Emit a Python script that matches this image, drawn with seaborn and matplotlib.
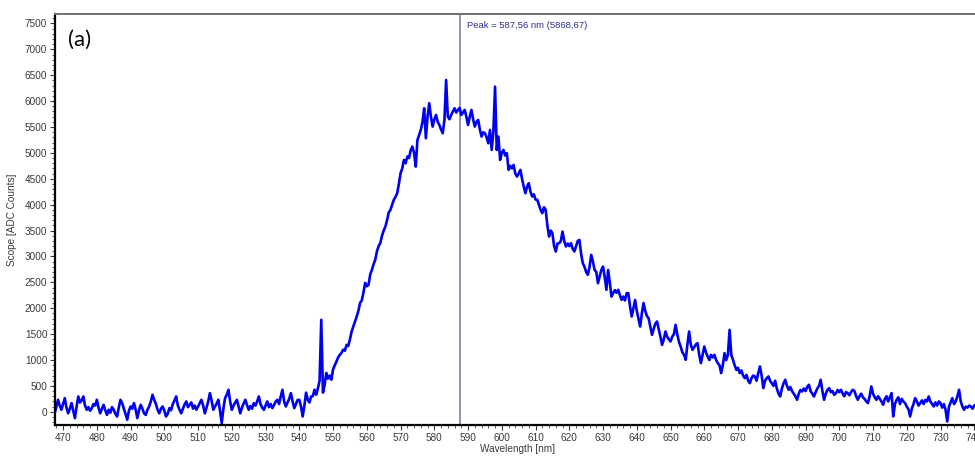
import numpy as np
import pandas as pd
import matplotlib
matplotlib.use("Agg")
import matplotlib.pyplot as plt
import seaborn as sns
from matplotlib.ticker import MultipleLocator

# ---- data (0.5 nm sampling, per segment) ----
seg_a_start = 467.5
seg_a = [-30, 100, 232, 120, 39, 150, 264, 80, -30, 60, 168, 20, -122, 100, 296, 180,
         220, 296, 120, 39, 90, 20, 71, 150, 120, 232, 80, -30, 60, 135, 30, -60,
         40, -20, 90, 39, -40, -90, 80, 232, 168, 60, -40, -154, 20, 103, 60, 168,
         40, -122, 30, 135, 60, -30, -60, 40, 103, 200, 328, 232, 150, 40, -30, 60, 103]

seg_b_start = 500.0
seg_b = [20, -90, -40, 71, 30, 150, 220, 296, 120, 40, -30, 60, 140, 200, 90, 135,
         180, 60, 120, 40, 103, 170, 232, 120, -30, 80, 200, 361, 220, 39, 100, 160,
         232, 20, -219, 60, 264, 330, 425, 200, 39, 120, 180, 232, 100, -30, 80, 160,
         232, 130, 39, 110, 60, 168, 120, 200, 296, 150, 80, 39, 120, 200, 90, 150,
         71, 130, 200, 232, 150, 300, 425, 200, 103, 180, 250, 361, 200, 71, 150, 230]

seg_c_start = 540.0
seg_c = [230, 100, -90, 120, 370, 232, 180, 296, 300, 425, 330, 450, 600, 1776, 370, 520,
         750, 640, 700, 620, 820, 900, 970, 1050, 1100, 1138, 1200, 1180, 1293, 1270, 1400, 1550,
         1647, 1750, 1840, 1950, 2103, 2150, 2300, 2490, 2425, 2450, 2650, 2741, 2850, 2934, 3100, 3200,
         3260, 3400, 3500, 3578, 3700, 3850, 3900, 4000, 4093, 4150, 4221, 4400, 4608, 4700, 4865, 4800,
         4930, 4900, 5050, 5122, 5000, 4736, 5250, 5350, 5444, 5600, 5862, 5283, 5700, 5960, 5700, 5508]

seg_d_start = 580.0
seg_d = [5650, 5733, 5600, 5540, 5450, 5380, 5637, 6409, 5700, 5650, 5733, 5800, 5862, 5780, 5830, 5869,
         5733, 5780, 5830, 5700, 5540, 5700, 5830, 5650, 5508, 5600, 5637, 5450, 5315, 5400, 5380, 5300,
         5187, 5444, 5058, 5400, 6280, 5058, 5315, 4865, 5000, 5058, 4950, 4994, 4672, 4750, 4700, 4768,
         4600, 4543, 4600, 4672, 4500, 4350, 4222, 4350, 4414, 4250, 4157, 4200, 4100, 4093, 4000, 3900,
         3836, 3950, 3900, 3600, 3385, 3500, 3449, 3200, 3095, 3250, 3256, 3300, 3481, 3300, 3192, 3250]

seg_e_start = 620.0
seg_e = [3200, 3256, 3150, 3095, 3200, 3300, 3320, 3050, 2870, 2800, 2700, 2645, 2800, 3031, 2900, 2741,
         2700, 2484, 2612, 2741, 2805, 2600, 2355, 2740, 2500, 2226, 2291, 2350, 2300, 2355, 2250, 2162,
         2226, 2150, 2290, 2290, 2033, 1840, 2000, 2160, 1950, 1800, 1647, 1900, 2100, 1950, 1850, 1808,
         1650, 1486, 1600, 1700, 1744, 1600, 1450, 1293, 1400, 1551, 1450, 1400, 1358, 1450, 1500, 1679,
         1500, 1350, 1261, 1150, 1100, 1004, 1300, 1551, 1300, 1196, 1250, 1300, 1325, 1100, 940, 1100]

seg_f_start = 660.0
seg_f = [1261, 1150, 1068, 1000, 1100, 1050, 1100, 1000, 940, 900, 747, 900, 1133, 1000, 1100, 1583,
         1100, 1004, 900, 810, 850, 747, 800, 700, 650, 714, 600, 553, 650, 700, 683, 600,
         750, 875, 700, 457, 600, 650, 683, 600, 553, 500, 600, 450, 350, 296, 450, 550,
         618, 500, 425, 480, 400, 350, 300, 232, 350, 420, 393, 450, 400, 480, 521, 400,
         350, 296, 380, 450, 500, 618, 400, 232, 350, 420, 457, 380, 400, 328, 360, 420]

seg_g_start = 700.0
seg_g = [380, 425, 350, 300, 380, 361, 320, 380, 425, 400, 300, 232, 300, 350, 280, 250,
         200, 168, 300, 489, 350, 280, 232, 300, 250, 200,
         135, 250, 300, 200, 280, 361, -90, 150, 232, 280, 150, 250, 200, 168, 100, 50,
         -90, 60, 150, 264, 200, 120, 168, 220, 150, 230, 200, 296, 200, 150, 103, 180,
         120, 200, 168, 80, 150, 40, -187, 100, 180, 264, 150, 200, 300, 425, 200, 100,
         39, 100, 80, 120, 103, 60, 120, 135, 80, 110, 100]

peak_wavelength = 587.56
peak_label = "Peak = 587,56 nm (5868,67)"
panel_label = "(a)"
x_label = "Wavelength [nm]"
y_label = "Scope [ADC Counts]"

segments = [(seg_a_start, seg_a), (seg_b_start, seg_b), (seg_c_start, seg_c),
            (seg_d_start, seg_d), (seg_e_start, seg_e), (seg_f_start, seg_f),
            (seg_g_start, seg_g)]
frames = []
for start, vals in segments:
    wl = start + 0.5 * np.arange(len(vals))
    frames.append(pd.DataFrame({"wavelength": wl, "counts": vals}))
df = pd.concat(frames, ignore_index=True)

# ---- styling ----
sns.set_style("white")
plt.rcParams["font.family"] = ["Liberation Sans", "DejaVu Sans"]

W, H = 975, 457
fig = plt.figure(figsize=(W / 100, H / 100), dpi=100)
ax = fig.add_axes([55 / W, (H - 425) / H, (981 - 55) / W, (425 - 14) / H])

sns.lineplot(data=df, x="wavelength", y="counts", ax=ax, color="#0000f0",
             linewidth=1.9, sort=False, estimator=None)

ax.axvline(peak_wavelength, color="#7474a4", linewidth=1.1, zorder=1)
ax.text(peak_wavelength + 2.0, 7470, peak_label, color="#2e2e8c", fontsize=6.8,
        va="center", ha="left")
ax.text(471.6, 7180, panel_label, fontsize=16, va="center", ha="left",
        family=["Lato", "DejaVu Sans"], color="black")

ax.set_xlim(467.6, 742.0)
ax.set_ylim(-255, 7683)
ax.xaxis.set_major_locator(MultipleLocator(10))
ax.xaxis.set_minor_locator(MultipleLocator(2))
ax.yaxis.set_major_locator(MultipleLocator(500))
ax.yaxis.set_minor_locator(MultipleLocator(100))

ax.tick_params(axis="both", which="major", direction="out", length=3.5, width=0.8,
               labelsize=7.2, colors="#3a3a3a", pad=2)
ax.tick_params(axis="both", which="minor", direction="out", length=2, width=0.6,
               colors="#3a3a3a")
ax.tick_params(axis="x", which="both", bottom=True)
ax.tick_params(axis="y", which="both", left=True)

ax.set_xlabel(x_label, fontsize=7.2, color="#3a3a3a", labelpad=1)
ax.set_ylabel(y_label, fontsize=7.2, color="#3a3a3a", labelpad=6)

for side in ["left", "bottom"]:
    ax.spines[side].set_color("black")
    ax.spines[side].set_linewidth(1.6)
ax.spines["top"].set_color("#707070")
ax.spines["top"].set_linewidth(1.4)
ax.spines["right"].set_visible(False)

fig.savefig("out.png", dpi=100, facecolor="white")
